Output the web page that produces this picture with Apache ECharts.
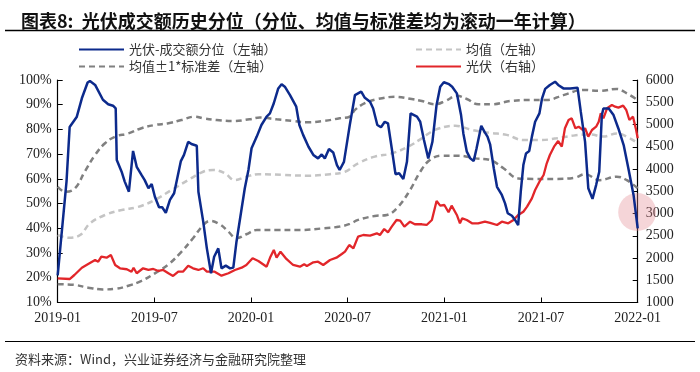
<!DOCTYPE html>
<html>
<head>
<meta charset="utf-8">
<script src="https://cdn.jsdelivr.net/npm/echarts@6/dist/echarts.min.js"></script>
<style>html,body{margin:0;padding:0;background:#fff}#c{width:700px;height:372px}</style>
</head>
<body>
<div id="c"></div>
<script>
const xTickLabels = ['2019-01','2019-07','2020-01','2020-07','2021-01','2021-07','2022-01'];
const leftTicks = ['10%','20%','30%','40%','50%','60%','70%','80%','90%','100%'];

const blueDates = ['2019-01-01','2019-01-18','2019-01-24','2019-02-06','2019-02-15','2019-02-25','2019-03-01','2019-03-11','2019-03-26','2019-04-05','2019-04-14','2019-04-19','2019-04-21','2019-04-30','2019-05-06','2019-05-14','2019-05-22','2019-05-29','2019-06-07','2019-06-13','2019-06-20','2019-06-26','2019-07-02','2019-07-10','2019-07-16','2019-07-23','2019-07-31','2019-08-08','2019-08-21','2019-08-27','2019-09-04','2019-09-10','2019-09-20','2019-09-23','2019-10-02','2019-10-09','2019-10-17','2019-10-23','2019-10-31','2019-11-06','2019-11-14','2019-11-22','2019-11-28','2019-12-04','2019-12-14','2019-12-20','2019-12-27','2020-01-02','2020-01-12','2020-01-21','2020-01-31','2020-02-06','2020-02-13','2020-02-21','2020-02-27','2020-03-04','2020-03-14','2020-03-26','2020-04-01','2020-04-08','2020-04-18','2020-04-27','2020-05-06','2020-05-13','2020-05-19','2020-05-27','2020-06-04','2020-06-11','2020-06-16','2020-06-24','2020-07-02','2020-07-05','2020-07-15','2020-07-27','2020-08-03','2020-08-13','2020-08-19','2020-08-27','2020-09-03','2020-09-10','2020-09-16','2020-09-23','2020-09-30','2020-10-07','2020-10-15','2020-10-22','2020-10-29','2020-11-10','2020-11-16','2020-11-23','2020-12-01','2020-12-09','2020-12-17','2020-12-24','2020-12-31','2021-01-10','2021-01-16','2021-01-25','2021-02-02','2021-02-06','2021-02-12','2021-02-18','2021-02-24','2021-03-01','2021-03-10','2021-03-16','2021-03-22','2021-03-27','2021-04-03','2021-04-09','2021-04-18','2021-04-24','2021-04-29','2021-05-07','2021-05-13','2021-05-19','2021-05-24','2021-05-29','2021-06-03','2021-06-09','2021-06-14','2021-06-20','2021-06-28','2021-07-03','2021-07-09','2021-07-18','2021-07-28','2021-08-03','2021-08-13','2021-08-26','2021-09-09','2021-09-15','2021-09-23','2021-09-29','2021-10-07','2021-10-14','2021-10-20','2021-10-25','2021-10-28','2021-11-07','2021-11-16','2021-11-25','2021-12-05','2021-12-14','2021-12-24','2022-01-01'];
const blueValues = [21,59,81,85,92.6,99,99.6,98,92,90.2,89.6,88.5,67.6,62.9,58.9,54.8,71.3,64.9,61.6,59.5,56.2,57.9,52.8,48.5,48.5,46.3,51.5,54.2,67.2,69.7,75,74.1,73.4,54.8,42.7,31.9,21.8,28.5,31.9,23.8,24.9,23.8,24.1,34.6,48.1,56.2,63.6,72.4,77.1,81.8,85.2,86.5,90.6,96.6,98.3,97.3,93.9,89.2,81.8,77.8,73,69.7,68.3,69.9,68.3,72.1,70.7,65.6,63.6,66.9,77.8,81.8,93.9,95.3,92.8,91.2,88.5,81.8,80.9,83.1,82.5,72.4,61.9,62.3,60,66.9,86.5,85.2,83.1,75.7,68.3,75,89.9,97.3,99.1,98.3,97.3,94.6,85.8,78.4,71,68.3,67.2,72.4,81.5,79.1,77.1,74,64.3,56.8,53.5,50.1,46.1,45.1,43.4,41.3,54.8,65.6,70.3,71.3,77.1,83.1,86.5,92.6,96.4,98,99.3,98,96.6,96.6,96.9,87.2,75,56.2,51.9,57.5,62.9,85.8,88.5,88.5,85.8,80.4,73.7,64.3,53.5,40];

const redDates = ['2019-01-01','2019-01-24','2019-02-02','2019-02-15','2019-02-26','2019-03-11','2019-03-17','2019-03-23','2019-04-02','2019-04-10','2019-04-18','2019-04-27','2019-05-10','2019-05-19','2019-05-23','2019-05-29','2019-06-10','2019-06-20','2019-06-29','2019-07-09','2019-07-18','2019-07-28','2019-08-06','2019-08-16','2019-08-25','2019-09-04','2019-09-13','2019-09-23','2019-10-02','2019-10-09','2019-10-24','2019-11-06','2019-11-19','2019-12-01','2019-12-14','2019-12-23','2020-01-04','2020-01-15','2020-01-31','2020-02-07','2020-02-13','2020-02-18','2020-02-25','2020-03-07','2020-03-20','2020-04-02','2020-04-10','2020-04-15','2020-04-27','2020-05-06','2020-05-16','2020-05-29','2020-06-10','2020-06-20','2020-06-26','2020-07-04','2020-07-12','2020-07-21','2020-07-31','2020-08-13','2020-08-26','2020-09-01','2020-09-09','2020-09-16','2020-09-23','2020-10-02','2020-10-09','2020-10-17','2020-10-28','2020-11-06','2020-11-19','2020-11-28','2020-12-08','2020-12-17','2020-12-24','2021-01-01','2021-01-09','2021-01-15','2021-01-25','2021-01-31','2021-02-04','2021-02-12','2021-02-21','2021-03-04','2021-03-17','2021-03-27','2021-04-09','2021-04-18','2021-04-30','2021-05-10','2021-05-19','2021-05-29','2021-06-05','2021-06-14','2021-06-20','2021-06-28','2021-07-06','2021-07-12','2021-07-18','2021-07-26','2021-08-03','2021-08-10','2021-08-16','2021-08-23','2021-08-29','2021-09-05','2021-09-11','2021-09-19','2021-09-23','2021-09-29','2021-10-06','2021-10-14','2021-10-19','2021-10-23','2021-10-28','2021-11-04','2021-11-13','2021-11-19','2021-11-25','2021-12-04','2021-12-10','2021-12-16','2021-12-23','2021-12-29','2022-01-01'];
const redValues = [1544,1528,1618,1782,1866,1955,1917,2030,2007,2068,1843,1769,1747,1693,1782,1657,1769,1731,1753,1708,1731,1657,1596,1693,1693,1827,1769,1731,1769,1693,1693,1603,1657,1731,1782,1843,1993,1933,1805,2030,2180,2007,2142,1978,1843,1805,1859,1821,1904,1917,1843,1955,2007,2090,2142,2292,2218,2479,2517,2502,2555,2517,2652,2577,2704,2854,2840,2704,2816,2758,2758,2742,2854,3281,3176,3191,3027,3176,2967,2780,2892,2854,2780,2780,2816,2790,2742,2816,2780,2854,2967,3040,3153,3341,3528,3715,3865,4128,4315,4502,4629,4502,4915,5101,5139,4915,4951,4877,4915,4726,4877,4951,5063,5252,5139,5364,5438,5401,5378,5423,5326,5101,5176,4877,4690];

const upperDates = ['2019-01-01','2019-01-15','2019-02-03','2019-02-20','2019-03-11','2019-03-30','2019-04-18','2019-05-13','2019-06-07','2019-07-02','2019-07-28','2019-08-22','2019-09-17','2019-10-02','2019-10-28','2019-11-28','2019-12-29','2020-01-18','2020-02-18','2020-03-20','2020-04-15','2020-05-16','2020-06-16','2020-07-05','2020-07-15','2020-08-03','2020-08-28','2020-09-29','2020-10-31','2020-11-19','2020-12-14','2021-01-03','2021-01-25','2021-02-12','2021-03-04','2021-03-30','2021-05-04','2021-06-11','2021-07-12','2021-08-13','2021-09-20','2021-10-21','2021-11-22','2021-12-11','2022-01-01'];
const upperValues = [56.8,54.8,56.2,62.9,69.7,74.4,77.1,78.4,80.5,81.8,82.5,83.8,85.2,84.5,83.8,83.4,84.1,84.8,84.1,83.4,82.9,83.4,84.5,85.2,87.9,90.6,92.3,93.2,92.3,91.5,90.2,91.5,93.6,92.3,90.2,90.2,91.5,91.9,91.9,93.9,96,95.6,96.4,94.6,91.9];

const meanDates = ['2019-01-01','2019-01-21','2019-02-12','2019-03-01','2019-03-30','2019-04-30','2019-06-01','2019-07-02','2019-08-03','2019-09-04','2019-10-02','2019-10-21','2019-11-12','2019-12-01','2019-12-23','2020-01-15','2020-03-01','2020-04-15','2020-05-29','2020-06-26','2020-07-21','2020-08-22','2020-09-23','2020-10-24','2020-11-19','2020-12-14','2021-01-22','2021-02-21','2021-03-27','2021-04-27','2021-05-29','2021-06-30','2021-07-31','2021-09-01','2021-10-02','2021-10-28','2021-11-22','2021-12-17','2022-01-01'];
const meanValues = [37.3,36.2,37.3,42,45.4,47.4,48.7,51.5,55.5,59.5,62.9,63.6,62.3,59.5,60.9,61.9,61.6,61.3,61.9,62.9,66.3,69,70.3,73,76.4,79.8,81.5,79.8,78.6,77.8,75.7,75.7,76.4,77.5,78,77.1,78.4,76.4,74.4];

const lowerDates = ['2019-01-01','2019-02-03','2019-02-26','2019-03-26','2019-04-18','2019-05-13','2019-06-07','2019-07-02','2019-07-28','2019-08-22','2019-09-13','2019-10-02','2019-10-15','2019-11-03','2019-11-19','2019-12-04','2019-12-23','2020-01-12','2020-02-18','2020-04-02','2020-05-16','2020-06-16','2020-07-05','2020-07-21','2020-08-22','2020-09-14','2020-10-05','2020-10-28','2020-11-16','2020-12-04','2020-12-27','2021-01-28','2021-02-27','2021-03-27','2021-04-21','2021-05-19','2021-06-17','2021-07-31','2021-09-04','2021-09-23','2021-10-21','2021-11-22','2021-12-11','2022-01-01'];
const lowerValues = [17.4,17.1,16,15.3,15.5,16.8,18.7,21.8,25.4,30.5,36,41.3,43,41.6,38.6,36,37.6,39.3,39.3,39.3,40,40.7,41.8,43.4,45,45.4,48.7,55.5,62.9,67.6,69.4,69.4,68.3,67.6,64.3,60.2,60,60,60.5,61.9,59.5,60.9,59.5,56.2];

const highlightDate = ['2021-12-31'];
const highlightValue = [46.6];

function toM(s){
  const p = s.split('-').map(Number);
  const dim = new Date(p[0], p[1], 0).getDate();
  return (p[0]-2019)*12 + (p[1]-1) + (p[2]-1)/dim;
}
function pairs(d, v){ return d.map((s,i)=>[toM(s), v[i]]); }

const NAME_BLUE = '光伏-成交额分位（左轴）';
const NAME_STD = '均值±1*标准差（左轴）';
const NAME_MEAN = '均值（左轴）';
const NAME_RED = '光伏（右轴）';

const chart = echarts.init(document.getElementById('c'), null, {renderer:'canvas'});
const serif = "Liberation Serif";
const cjk = "Noto Sans CJK SC";
const axisCommon = {
  axisLine:{show:true, lineStyle:{color:'#000', width:1.2}},
  axisTick:{show:true, inside:true, length:5, lineStyle:{color:'#000'}},
  splitLine:{show:false}
};
const legendCommon = {orient:'vertical', top:43, padding:0, itemWidth:45, itemHeight:14, itemGap:4,
  itemStyle:{opacity:0, borderWidth:0},
  textStyle:{fontFamily:cjk, fontSize:13, color:'#333'}};
chart.setOption({
  animation:false,
  backgroundColor:'#fff',
  title:[
    {text:'图表8:  光伏成交额历史分位（分位、均值与标准差均为滚动一年计算）', left:16, top:7,
     textStyle:{fontFamily:cjk, fontSize:18, fontWeight:'bold', color:'#111'}},
    {text:'资料来源：Wind，兴业证券经济与金融研究院整理', left:10, top:348,
     textStyle:{fontFamily:cjk, fontSize:13, fontWeight:'normal', color:'#333'}}
  ],
  graphic:[
    {type:'line', shape:{x1:5,y1:30.5,x2:695,y2:30.5}, style:{stroke:'#000', lineWidth:1.5}},
    {type:'line', shape:{x1:5,y1:341.5,x2:695,y2:341.5}, style:{stroke:'#000', lineWidth:1}}
  ],
  legend:[
    Object.assign({}, legendCommon, {left:78, data:[NAME_BLUE, NAME_STD]}),
    Object.assign({}, legendCommon, {left:415, data:[NAME_MEAN, NAME_RED]})
  ],
  grid:{left:57.7, right:62.3, top:80, bottom:69.5, containLabel:false},
  xAxis:Object.assign({}, axisCommon, {
    type:'value', min:0, max:36, interval:6,
    axisLabel:{fontFamily:serif, fontSize:14, color:'#222', margin:9,
      formatter:function(v){ return xTickLabels[Math.round(v/6)] || ''; }}
  }),
  yAxis:[
    Object.assign({}, axisCommon, {type:'value', min:10, max:100, interval:10, position:'left',
      axisLabel:{fontFamily:serif, fontSize:14, color:'#222', margin:6,
        formatter:function(v){ return leftTicks[Math.round(v/10)-1]; }}}),
    Object.assign({}, axisCommon, {type:'value', min:1000, max:6000, interval:500, position:'right',
      axisLabel:{fontFamily:serif, fontSize:14, color:'#222', margin:8,
        formatter:function(v){ return String(v); }}})
  ],
  series:[
    {type:'scatter', yAxisIndex:0, data:pairs(highlightDate, highlightValue), symbolSize:38,
     itemStyle:{color:'rgba(226,130,140,0.42)'}, silent:true, z:1},
    {name:NAME_STD, type:'line', yAxisIndex:0, data:pairs(upperDates, upperValues), smooth:0.4, showSymbol:false, symbol:'none',
     lineStyle:{color:'#808080', width:2.5, type:[6,4]}, itemStyle:{color:'#808080'}, z:2},
    {name:NAME_STD, type:'line', yAxisIndex:0, data:pairs(lowerDates, lowerValues), smooth:0.4, showSymbol:false, symbol:'none',
     lineStyle:{color:'#808080', width:2.5, type:[6,4]}, itemStyle:{color:'#808080'}, z:2},
    {name:NAME_MEAN, type:'line', yAxisIndex:0, data:pairs(meanDates, meanValues), smooth:0.4, showSymbol:false, symbol:'none',
     lineStyle:{color:'#c4c4c4', width:2.5, type:[6,4]}, itemStyle:{color:'#c4c4c4'}, z:2},
    {name:NAME_RED, type:'line', yAxisIndex:1, data:pairs(redDates, redValues), showSymbol:false, symbol:'none',
     lineStyle:{color:'#e2262a', width:2.3}, itemStyle:{color:'#e2262a'}, z:3},
    {name:NAME_BLUE, type:'line', yAxisIndex:0, data:pairs(blueDates, blueValues), showSymbol:false, symbol:'none',
     lineStyle:{color:'#0c2a8c', width:2.5}, itemStyle:{color:'#0c2a8c'}, z:4}
  ]
});
</script>
</body>
</html>
